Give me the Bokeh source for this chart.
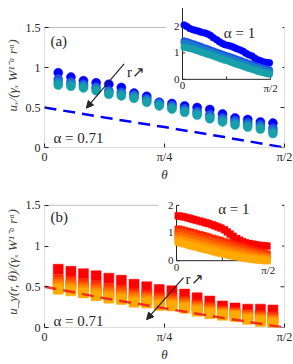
import math
from bokeh.plotting import figure
from bokeh.models import (Range1d, FixedTicker, LinearAxis, BoxAnnotation, Label,
                          Arrow, NormalHead, Title)
from bokeh.layouts import column
from bokeh.embed import file_html
from bokeh.resources import INLINE
from bokeh.core.properties import value

HALF_PI = math.pi / 2

# ---------------- data ----------------
theta_main = [0.090, 0.173, 0.255, 0.338, 0.421, 0.503, 0.586, 0.669, 0.751,
              0.834, 0.917, 0.999, 1.082, 1.165, 1.247, 1.330, 1.413, 1.495]

ux_r1 = [0.935, 0.88, 0.835, 0.81, 0.79, 0.75, 0.68, 0.64, 0.565, 0.55, 0.52,
         0.50, 0.475, 0.42, 0.37, 0.35, 0.32, 0.305]
ux_r2 = [0.855, 0.82, 0.79, 0.755, 0.71, 0.69, 0.655, 0.61, 0.56, 0.525, 0.485,
         0.45, 0.41, 0.37, 0.335, 0.31, 0.285, 0.24]
ux_r3 = [0.815, 0.795, 0.77, 0.735, 0.69, 0.67, 0.64, 0.59, 0.54, 0.50, 0.46,
         0.425, 0.38, 0.345, 0.31, 0.28, 0.255, 0.205]
ux_r4 = [0.78, 0.765, 0.745, 0.71, 0.665, 0.645, 0.615, 0.565, 0.52, 0.48, 0.44,
         0.405, 0.36, 0.32, 0.28, 0.255, 0.23, 0.175]

uy_r1 = [0.715, 0.69, 0.66, 0.635, 0.605, 0.58, 0.53, 0.50, 0.465, 0.45, 0.41,
         0.365, 0.325, 0.265, 0.24, 0.225, 0.225, 0.215]
uy_r2 = [0.59, 0.57, 0.54, 0.51, 0.48, 0.46, 0.42, 0.40, 0.37, 0.36, 0.32,
         0.28, 0.25, 0.21, 0.19, 0.16, 0.15, 0.13]
uy_r3 = [0.56, 0.54, 0.51, 0.48, 0.45, 0.43, 0.39, 0.37, 0.34, 0.33, 0.30,
         0.26, 0.23, 0.19, 0.17, 0.15, 0.13, 0.11]
uy_r4 = [0.53, 0.51, 0.48, 0.45, 0.42, 0.40, 0.365, 0.35, 0.32, 0.31, 0.28,
         0.24, 0.21, 0.18, 0.16, 0.13, 0.11, 0.09]
uy_r5 = [0.50, 0.48, 0.45, 0.42, 0.39, 0.37, 0.335, 0.325, 0.29, 0.285, 0.255,
         0.22, 0.19, 0.165, 0.15, 0.115, 0.095, 0.07]
uy_r6 = [0.47, 0.45, 0.425, 0.39, 0.36, 0.345, 0.31, 0.30, 0.27, 0.265, 0.235,
         0.20, 0.17, 0.15, 0.135, 0.10, 0.075, 0.05]

theory_theta = [0.0, 0.3927, 0.7854, 1.1781, 1.5708]
ux_theory = [0.5, 0.375, 0.255, 0.13, 0.0]
uy_theory = [0.5, 0.36, 0.235, 0.115, 0.0]

inset_theta = [0.03, 0.08, 0.13, 0.19, 0.24, 0.29, 0.34, 0.40, 0.45, 0.50,
               0.55, 0.61, 0.66, 0.71, 0.76, 0.82, 0.87, 0.92, 0.97, 1.03,
               1.08, 1.13, 1.18, 1.24, 1.29, 1.34, 1.39, 1.45, 1.50, 1.55]

ux_in_r1 = [2.06, 2.00, 1.93, 1.88, 1.85, 1.82, 1.78, 1.76, 1.72, 1.66,
            1.58, 1.50, 1.42, 1.36, 1.31, 1.28, 1.25, 1.21, 1.16, 1.11,
            1.06, 0.99, 0.93, 0.88, 0.80, 0.74, 0.70, 0.66, 0.64, 0.63]
ux_in_r2 = [1.45, 1.42, 1.39, 1.35, 1.31, 1.27, 1.23, 1.19, 1.15, 1.11,
            1.07, 1.03, 0.99, 0.95, 0.91, 0.87, 0.84, 0.80, 0.76, 0.72,
            0.68, 0.64, 0.60, 0.56, 0.52, 0.49, 0.46, 0.42, 0.39, 0.36]
ux_in_r3 = [1.38, 1.35, 1.32, 1.28, 1.24, 1.20, 1.16, 1.12, 1.08, 1.04,
            1.00, 0.96, 0.92, 0.88, 0.84, 0.80, 0.77, 0.73, 0.69, 0.65,
            0.61, 0.57, 0.53, 0.49, 0.45, 0.42, 0.39, 0.35, 0.32, 0.29]
ux_in_r4 = [1.22, 1.20, 1.17, 1.14, 1.10, 1.07, 1.03, 0.99, 0.95, 0.92,
            0.88, 0.84, 0.80, 0.76, 0.72, 0.69, 0.65, 0.61, 0.57, 0.53,
            0.50, 0.46, 0.42, 0.38, 0.35, 0.31, 0.28, 0.25, 0.22, 0.20]

uy_in_r1 = [1.62, 1.60, 1.58, 1.55, 1.52, 1.49, 1.46, 1.43, 1.40, 1.37,
            1.34, 1.30, 1.26, 1.22, 1.18, 1.12, 1.04, 0.96, 0.88, 0.80,
            0.74, 0.69, 0.65, 0.62, 0.60, 0.58, 0.56, 0.55, 0.54, 0.53]
uy_in_r2 = [1.14, 1.12, 1.09, 1.06, 1.03, 1.00, 0.97, 0.94, 0.91, 0.88,
            0.85, 0.81, 0.78, 0.75, 0.72, 0.68, 0.65, 0.62, 0.59, 0.55,
            0.52, 0.49, 0.46, 0.42, 0.39, 0.36, 0.33, 0.30, 0.27, 0.24]
uy_in_r3 = [1.02, 1.00, 0.97, 0.94, 0.91, 0.88, 0.85, 0.82, 0.79, 0.76,
            0.73, 0.70, 0.67, 0.64, 0.61, 0.57, 0.54, 0.51, 0.49, 0.45,
            0.42, 0.40, 0.37, 0.33, 0.31, 0.28, 0.26, 0.23, 0.21, 0.18]
uy_in_r4 = [0.90, 0.88, 0.85, 0.82, 0.79, 0.76, 0.73, 0.70, 0.67, 0.645,
            0.615, 0.58, 0.55, 0.52, 0.495, 0.46, 0.435, 0.405, 0.38, 0.35,
            0.325, 0.30, 0.275, 0.245, 0.225, 0.20, 0.18, 0.16, 0.14, 0.12]
uy_in_r5 = [0.79, 0.76, 0.73, 0.70, 0.67, 0.64, 0.61, 0.58, 0.55, 0.53,
            0.50, 0.465, 0.435, 0.405, 0.38, 0.35, 0.33, 0.30, 0.275, 0.25,
            0.23, 0.205, 0.18, 0.16, 0.14, 0.12, 0.105, 0.09, 0.075, 0.06]
uy_in_r6 = [0.67, 0.64, 0.61, 0.58, 0.55, 0.52, 0.49, 0.46, 0.43, 0.41,
            0.38, 0.35, 0.32, 0.29, 0.27, 0.24, 0.22, 0.19, 0.17, 0.15,
            0.13, 0.11, 0.09, 0.07, 0.06, 0.04, 0.03, 0.02, 0.01, 0.00]

ux_colors = ["#0000ff", "#1f4fe6", "#1a7ccc", "#17a0aa"]
uy_colors = ["#ff0000", "#ff2800", "#ff4c00", "#ff6e00", "#ff9000", "#ffaa00"]

main_yticks = [0, 0.5, 1, 1.5]
main_ylabels = {0: "0", 0.5: "0.5", 1: "1", 1.5: "1.5"}
main_xticks = [0, math.pi / 4, math.pi / 2]
main_xlabels = {0: "0", math.pi / 4: "π/4", math.pi / 2: "π/2"}

inset_xticks = [0, math.pi / 4, math.pi / 2]
inset_xlabel_ticks = [0, math.pi / 2]
inset_xlabels = ["0", "π/2"]
inset_yticks = [0, 1, 2]
inset_ylabels = ["0", "1", "2"]

# ---------------- style ----------------
SERIF = "Liberation Serif"
TXT = "#262626"
FIG_W = 293
B_L, B_R = 43, 9
BOX_H = 125
BOX_TOP = 1.5


def make_panel(fig_h, border_top, border_bottom, series, colors, marker, msize,
               line_vals, line_color, line_first, inset_series, inset_marker,
               inset_msize, inset_place, inset_ylim, white_box, ylabel,
               ylabel_offset, tag, tag_pos, alpha_pos, r_pos, arrow_pos, alpha1_pos):
    frame_h = fig_h - border_top - border_bottom
    y_end = BOX_TOP * frame_h / BOX_H
    p = figure(width=FIG_W, height=fig_h, output_backend="svg", toolbar_location=None,
               x_range=Range1d(0, HALF_PI), y_range=Range1d(0, y_end),
               x_axis_type=None, y_axis_type=None,
               min_border_left=B_L, min_border_right=B_R,
               min_border_top=border_top, min_border_bottom=border_bottom)
    p.outline_line_color = None
    p.background_fill_color = "white"

    # inset ranges (inset drawn inside the main frame)
    x0f, wf, y0, ys = inset_place
    p.extra_x_ranges = {"ix": Range1d(-HALF_PI * x0f / wf, HALF_PI * (1 - x0f) / wf)}
    p.extra_y_ranges = {"iy": Range1d(-y0 / ys, (y_end - y0) / ys)}

    # axes
    xa = LinearAxis(ticker=FixedTicker(ticks=main_xticks, minor_ticks=[]),
                    major_label_overrides=main_xlabels)
    ya = LinearAxis(ticker=FixedTicker(ticks=main_yticks, minor_ticks=[]),
                    major_label_overrides=main_ylabels)
    for ax in (xa, ya):
        ax.axis_line_color = None
        ax.major_tick_in = 4
        ax.major_tick_out = 0
        ax.major_tick_line_color = TXT
        ax.minor_tick_line_color = None
        ax.major_label_text_font = SERIF
        ax.major_label_text_color = TXT
        ax.major_label_text_font_size = "12px"
    xa.major_label_standoff = 2
    ya.major_label_standoff = 4
    xa.axis_label = "θ"
    xa.axis_label_text_font = SERIF
    xa.axis_label_text_font_style = "italic"
    xa.axis_label_text_font_size = "13px"
    xa.axis_label_text_color = TXT
    xa.axis_label_standoff = 0
    p.add_layout(xa, "below")
    p.add_layout(ya, "left")
    p.add_layout(Title(text=ylabel, align="center", offset=ylabel_offset, standoff=5,
                       text_font=SERIF, text_font_style="italic",
                       text_font_size="13px", text_color="#404040"), "left")

    # right-side inward ticks of the main box
    rt = 0.026
    p.segment(x0=[HALF_PI] * len(main_yticks), y0=main_yticks,
              x1=[HALF_PI - rt] * len(main_yticks), y1=main_yticks, line_color=TXT)

    # main data
    if line_first:
        p.line(theory_theta, line_vals, line_color=line_color, line_width=2.5,
               line_dash="12 7")
    for s, c in zip(series, colors):
        p.scatter(theta_main, s, marker=marker, size=msize, fill_color=c,
                  line_color=c, line_width=0.5)
    if not line_first:
        p.line(theory_theta, line_vals, line_color=line_color, line_width=2.5,
               line_dash="12 7", line_alpha=0.9)

    # main box and inset background
    p.add_layout(BoxAnnotation(left=0, right=HALF_PI, bottom=0, top=BOX_TOP,
                               fill_alpha=0, line_color=TXT, line_width=1))
    wl, wr, wb = white_box
    p.add_layout(BoxAnnotation(left=wl, right=wr, bottom=wb, top=y_end,
                               fill_color="white", fill_alpha=1, line_color=None))

    # inset
    ixl = [0, HALF_PI]
    p.line([ixl[0], ixl[0], ixl[1]], [inset_ylim[1], inset_ylim[0], inset_ylim[0]],
           x_range_name="ix", y_range_name="iy", line_color=TXT, line_width=1,
           level="overlay")
    tkx = 0.05
    tky = 0.11
    p.segment(x0=[ixl[0]] * len(inset_yticks), y0=inset_yticks,
              x1=[ixl[0] + tkx] * len(inset_yticks), y1=inset_yticks,
              x_range_name="ix", y_range_name="iy", line_color=TXT, level="overlay")
    p.segment(x0=inset_xticks, y0=[inset_ylim[0]] * len(inset_xticks),
              x1=inset_xticks, y1=[inset_ylim[0] + tky] * len(inset_xticks),
              x_range_name="ix", y_range_name="iy", line_color=TXT, level="overlay")
    for s, c in zip(inset_series, colors):
        p.scatter(inset_theta, s, marker=inset_marker, size=inset_msize,
                  fill_color=c, line_color=c, line_width=0.3,
                  x_range_name="ix", y_range_name="iy", level="overlay")
    p.text(x=[ixl[0]] * len(inset_yticks), y=inset_yticks, text=inset_ylabels,
           x_offset=-3, text_align="right", text_baseline="middle",
           text_font=value(SERIF), text_font_size="11px", text_color=TXT,
           x_range_name="ix", y_range_name="iy", level="overlay")
    p.text(x=inset_xlabel_ticks, y=[inset_ylim[0]] * len(inset_xlabel_ticks),
           text=inset_xlabels, y_offset=3, text_align="center", text_baseline="top",
           text_font=value(SERIF), text_font_size="11px", text_color=TXT,
           x_range_name="ix", y_range_name="iy", level="overlay")

    # texts
    p.add_layout(Label(x=alpha1_pos[0], y=alpha1_pos[1], text="α = 1",
                       x_range_name="ix", y_range_name="iy",
                       text_font=SERIF, text_font_size="15px", text_color=TXT,
                       text_baseline="middle", text_align="left"))
    p.add_layout(Label(x=tag_pos[0], y=tag_pos[1], text=tag, text_font=SERIF,
                       text_font_size="15px", text_color=TXT,
                       text_baseline="middle", text_align="left"))
    p.add_layout(Label(x=alpha_pos[0], y=alpha_pos[1], text="α = 0.71",
                       text_font=SERIF, text_font_size="15px", text_color=TXT,
                       text_baseline="middle", text_align="left"))
    p.add_layout(Label(x=r_pos[0], y=r_pos[1], text="r↗", text_font=SERIF,
                       text_font_size="15px", text_color=TXT,
                       text_baseline="middle", text_align="left"))
    p.add_layout(Arrow(x_start=arrow_pos[0], y_start=arrow_pos[1],
                       x_end=arrow_pos[2], y_end=arrow_pos[3],
                       line_color=TXT, line_width=1.2,
                       end=NormalHead(size=7, fill_color=TXT, line_color=TXT)))
    return p


pa = make_panel(
    fig_h=184, border_top=3, border_bottom=31,
    series=[ux_r1, ux_r2, ux_r3, ux_r4], colors=ux_colors,
    marker="circle", msize=9,
    line_vals=ux_theory, line_color="#0000ff", line_first=True,
    inset_series=[ux_in_r1, ux_in_r2, ux_in_r3, ux_in_r4],
    inset_marker="circle", inset_msize=7,
    inset_place=(0.575, 0.367, 0.852, 0.33), inset_ylim=(0, 2.7),
    white_box=(0.795, 1.558, 0.64),
    ylabel="uₓ/(γₓ W¹⁻ᵅ rᵅ)", ylabel_offset=-22,
    tag="(a)", tag_pos=(0.039, 1.33), alpha_pos=(0.059, 0.116),
    r_pos=(0.54, 0.95), arrow_pos=(0.521, 1.044, 0.274, 0.492),
    alpha1_pos=(0.737, 1.77))

pb = make_panel(
    fig_h=180, border_top=12, border_bottom=34,
    series=[uy_r1, uy_r2, uy_r3, uy_r4, uy_r5, uy_r6], colors=uy_colors,
    marker="square", msize=10,
    line_vals=uy_theory, line_color="#f01e1e", line_first=False,
    inset_series=[uy_in_r1, uy_in_r2, uy_in_r3, uy_in_r4, uy_in_r5, uy_in_r6],
    inset_marker="square", inset_msize=7,
    inset_place=(0.55, 0.382, 0.82, 0.34), inset_ylim=(0, 2.0),
    white_box=(0.746, 1.555, 0.60),
    ylabel="u_y(r, θ)/(γₓ W¹⁻ᵅ rᵅ)", ylabel_offset=-19,
    tag="(b)", tag_pos=(0.039, 1.356), alpha_pos=(0.059, 0.076),
    r_pos=(0.923, 0.59), arrow_pos=(0.91, 0.612, 0.668, 0.096),
    alpha1_pos=(0.714, 1.88))

layout = column(pa, pb, spacing=0)
with open("out.html", "w") as f:
    f.write(file_html(layout, INLINE))
